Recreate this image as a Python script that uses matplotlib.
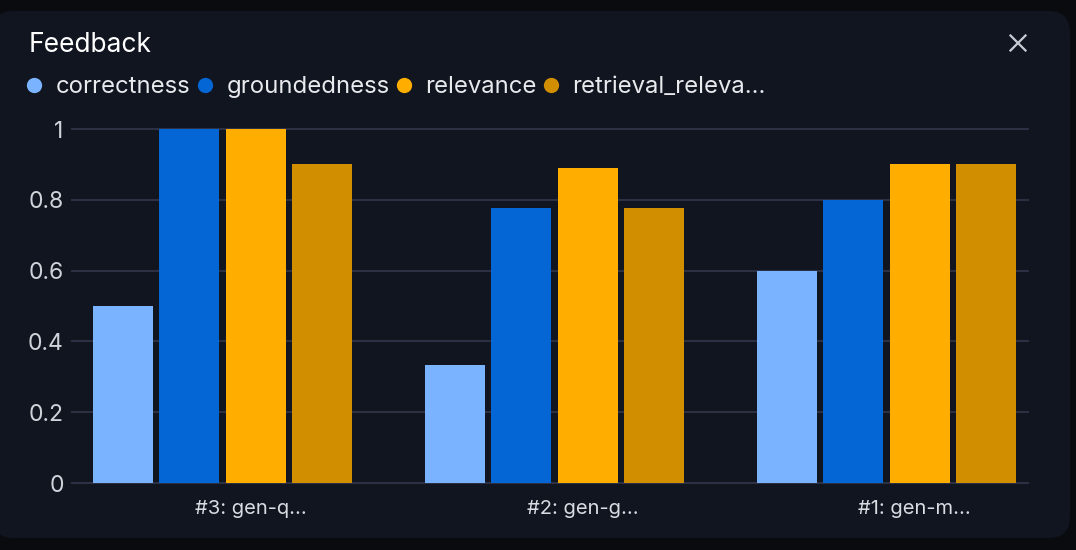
import matplotlib
matplotlib.use("Agg")
import matplotlib.pyplot as plt
from matplotlib.patches import FancyBboxPatch
from matplotlib.lines import Line2D
import numpy as np

plt.rcParams['font.family'] = ['Inter', 'DejaVu Sans']

categories = ["#3: gen-q...", "#2: gen-g...", "#1: gen-m..."]
series_names = ["correctness", "groundedness", "relevance", "retrieval_releva..."]
correctness = [0.5, 0.333, 0.6]
groundedness = [1.0, 0.778, 0.8]
relevance = [1.0, 0.889, 0.9]
retrieval_relevance = [0.9, 0.778, 0.9]
yticks = [0, 0.2, 0.4, 0.6, 0.8, 1]
ytick_labels = ["0", "0.2", "0.4", "0.6", "0.8", "1"]

colors = ["#7ab3ff", "#0466d4", "#ffae00", "#d18f00"]
series = [correctness, groundedness, relevance, retrieval_relevance]

W, H = 1076, 550
fig = plt.figure(figsize=(W / 100, H / 100), dpi=100)
fig.patch.set_facecolor("#0a0b0e")

card = FancyBboxPatch((-8 / W, 12 / H), 1078 / W, 527 / H,
                      boxstyle="round,pad=0,rounding_size=0.02",
                      transform=fig.transFigure, facecolor="#111520",
                      edgecolor="none", zorder=-5, mutation_aspect=W / H)
fig.patches.append(card)

ax = fig.add_axes([72 / W, 1 - 483 / H, (1028 - 72) / W, (483 - 129) / H])
ax.set_zorder(2)
ax.set_facecolor("none")
for s in ax.spines.values():
    s.set_visible(False)

x = np.arange(len(categories))
bw = 0.18
offsets = [-0.3, -0.1, 0.1, 0.3]
for vals, c, off in zip(series, colors, offsets):
    ax.bar(x + off, vals, width=bw, color=c, zorder=3)

for yt in yticks:
    ax.axhline(yt, color="#2b3042", lw=1.5, zorder=2, clip_on=False)

ax.set_ylim(0, 1)
ax.set_xlim(-0.453, 2.426)
ax.set_yticks(yticks)
ax.set_yticklabels(ytick_labels, fontsize=16.5, color="#cfd3da")
ax.tick_params(axis="y", length=0, pad=6)
ax.set_xticks(x + 0.085)
ax.set_xticklabels(categories, fontsize=14.5, color="#d9dce2")
ax.tick_params(axis="x", length=0, pad=12)

fig.text(29 / W, 1 - 45 / H, "Feedback", fontsize=19, color="#ffffff",
         va="center", ha="left")

# close icon
xc, yc, r = 1018, 43, 7.5
fig.add_artist(Line2D([(xc - r) / W, (xc + r) / W], [1 - (yc - r) / H, 1 - (yc + r) / H],
                      color="#c8ccd4", lw=1.6))
fig.add_artist(Line2D([(xc - r) / W, (xc + r) / W], [1 - (yc + r) / H, 1 - (yc - r) / H],
                      color="#c8ccd4", lw=1.6))

handles = [Line2D([], [], marker="o", linestyle="none", markersize=11,
                  markerfacecolor=c, markeredgecolor="none") for c in colors]
leg = fig.legend(handles, series_names, loc="center left",
                 bbox_to_anchor=(26 / W, 1 - 87 / H), ncol=4, frameon=False,
                 fontsize=17.2, handlelength=0.7, handletextpad=0.55,
                 columnspacing=0.25, borderaxespad=0, borderpad=0)
for t in leg.get_texts():
    t.set_color("#e8eaee")

fig.savefig("out.png", dpi=100, facecolor=fig.get_facecolor())
